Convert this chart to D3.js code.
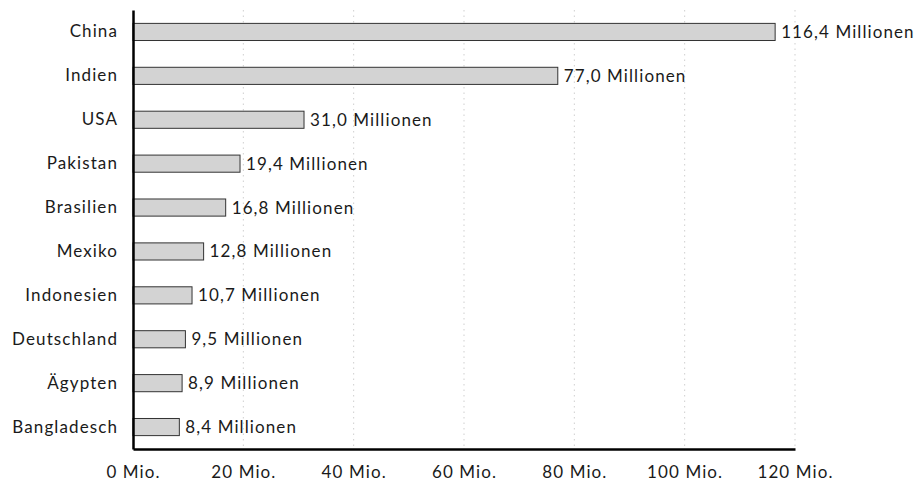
<!DOCTYPE html>
<html>
<head>
<meta charset="utf-8">
<script src="https://cdn.jsdelivr.net/npm/d3@7"></script>
<style>
  body { margin: 0; background: #fff; }
  svg { display: block; font-family: "Lato", sans-serif; }
</style>
</head>
<body>
<div id="chart"></div>
<script>
const countries = ["China", "Indien", "USA", "Pakistan", "Brasilien", "Mexiko", "Indonesien", "Deutschland", "Ägypten", "Bangladesch"]
const values = [116.4, 77.0, 31.0, 19.4, 16.8, 12.8, 10.7, 9.5, 8.9, 8.4]
const xTicks = [0, 20, 40, 60, 80, 100, 120]

const width = 924
const height = 482
const margin = { top: 10, right: 129, bottom: 33, left: 133 }
const innerW = width - margin.left - margin.right
const innerH = height - margin.top - margin.bottom

const fontSize = "17px"
const spacing = "1.1px"

const svg = d3.select("#chart")
  .append("svg")
  .attr("width", width)
  .attr("height", height)

const g = svg.append("g")
  .attr("transform", `translate(${margin.left},${margin.top})`)

const x = d3.scaleLinear().domain([0, 120]).range([0, innerW])
const y = d3.scaleBand().domain(countries).range([0, innerH])
  .paddingInner(0.61).paddingOuter(0.305)

const fmt = v => v.toFixed(1).replace(".", ",")

// Gridlines
g.selectAll(".grid")
  .data(xTicks.filter(d => d > 0))
  .enter()
  .append("line")
  .attr("class", "grid")
  .attr("x1", d => x(d))
  .attr("x2", d => x(d))
  .attr("y1", 0)
  .attr("y2", innerH)
  .attr("stroke", "#cfcfcf")
  .attr("stroke-width", 1)
  .attr("stroke-dasharray", "1.5,4")

// Bars
g.selectAll(".bar")
  .data(countries)
  .enter()
  .append("rect")
  .attr("class", "bar")
  .attr("x", 0)
  .attr("y", d => y(d))
  .attr("width", (d, i) => x(values[i]))
  .attr("height", y.bandwidth())
  .attr("fill", "#d3d3d3")
  .attr("stroke", "#333")
  .attr("stroke-width", 1)

// Value labels
g.selectAll(".val")
  .data(countries)
  .enter()
  .append("text")
  .attr("class", "val")
  .attr("x", (d, i) => x(values[i]) + 6)
  .attr("y", d => y(d) + y.bandwidth() / 2)
  .attr("dy", "0.35em")
  .attr("fill", "#1a1a1a")
  .attr("font-size", fontSize)
  .attr("letter-spacing", spacing)
  .text((d, i) => `${fmt(values[i])} Millionen`)

// Axes
const yAxis = g.append("g")
  .call(d3.axisLeft(y).tickSize(0).tickPadding(15))
yAxis.selectAll("text")
  .attr("font-size", fontSize)
  .attr("letter-spacing", spacing)
  .attr("fill", "#1a1a1a")
  .attr("font-family", "Lato, sans-serif")
yAxis.select(".domain").attr("stroke", "#000").attr("stroke-width", 2.5)

const xAxis = g.append("g")
  .attr("transform", `translate(0,${innerH})`)
  .call(d3.axisBottom(x).tickValues(xTicks).tickSize(0).tickPadding(17)
    .tickFormat(d => `${d} Mio.`))
xAxis.selectAll("text")
  .attr("font-size", fontSize)
  .attr("letter-spacing", spacing)
  .attr("fill", "#1a1a1a")
  .attr("font-family", "Lato, sans-serif")
xAxis.select(".domain").attr("stroke", "#000").attr("stroke-width", 2.5)
</script>
</body>
</html>
